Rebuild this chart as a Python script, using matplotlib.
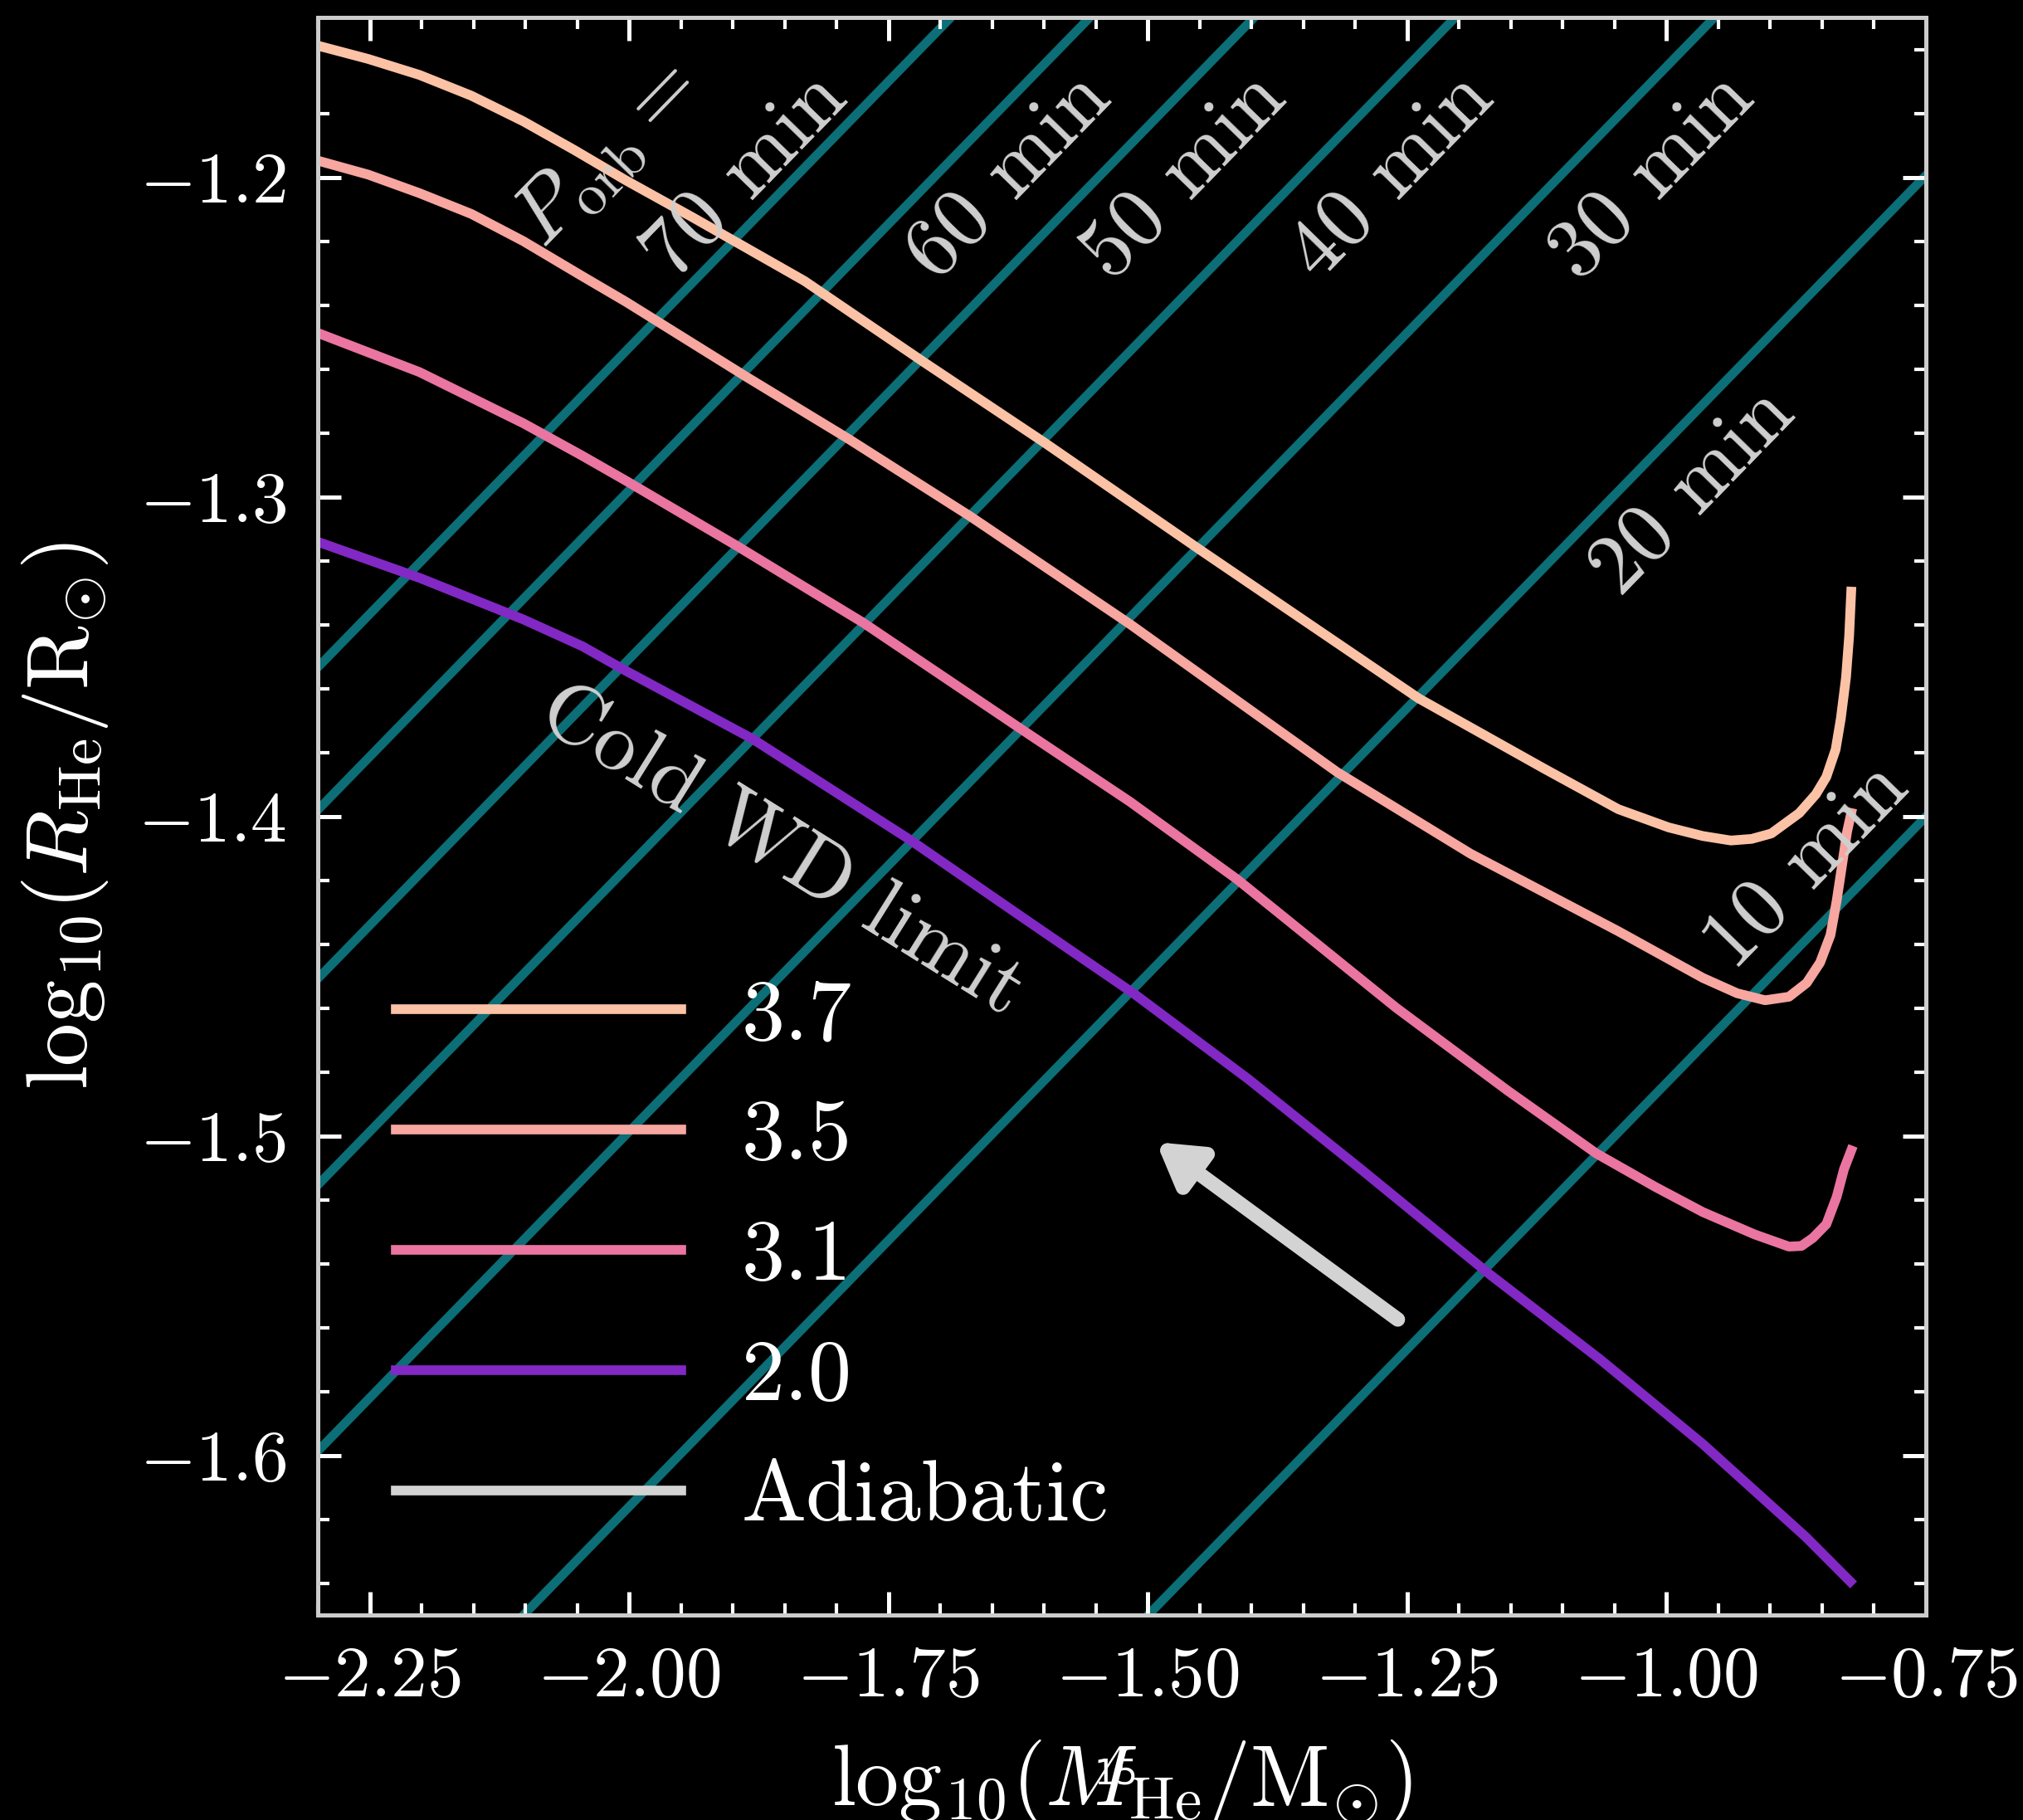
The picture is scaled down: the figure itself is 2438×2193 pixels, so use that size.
import numpy as np
import matplotlib
matplotlib.use("Agg")
import matplotlib.pyplot as plt
from matplotlib.ticker import MultipleLocator

plt.rcParams.update({
    "font.family": "serif",
    "font.serif": ["cmr10"],
    "mathtext.fontset": "cm",
    "axes.formatter.use_mathtext": True,
    "axes.unicode_minus": True,
})

# He-star tracks: log10(M/Msun) vs log10(R/Rsun), one per initial mass
m_37 = [-2.298, -2.2514, -2.202, -2.152, -2.102, -2.0527, -2.003, -1.938, -1.8308, -1.7167,
        -1.599, -1.4493, -1.239, -1.118, -1.0465, -0.998, -0.965, -0.938, -0.918, -0.899,
        -0.872, -0.856, -0.846, -0.837, -0.832, -0.827, -0.824, -0.822]
r_37 = [-1.159, -1.163, -1.168, -1.1745, -1.1825, -1.1915, -1.201, -1.2127, -1.2325, -1.2577,
        -1.2832, -1.3167, -1.3631, -1.3851, -1.3978, -1.4035, -1.4062, -1.4076, -1.4071, -1.4054,
        -1.399, -1.3931, -1.3877, -1.3791, -1.3694, -1.3565, -1.3436, -1.3297]

m_35 = [-2.298, -2.2514, -2.202, -2.152, -2.102, -2.045, -2.003, -1.8878, -1.788, -1.6704,
        -1.5171, -1.3175, -1.1891, -1.0465, -0.965, -0.932, -0.905, -0.882, -0.865, -0.852,
        -0.842, -0.836, -0.831, -0.826, -0.822]
r_35 = [-1.195, -1.1992, -1.205, -1.2115, -1.220, -1.2310, -1.2390, -1.2623, -1.282, -1.3063,
        -1.3399, -1.3862, -1.4117, -1.436, -1.4506, -1.4554, -1.4576, -1.4565, -1.4522, -1.4458,
        -1.4372, -1.4264, -1.4157, -1.4049, -1.399]

m_31 = [-2.298, -2.202, -2.102, -2.045, -2.003, -1.895, -1.774, -1.624, -1.517, -1.4137,
        -1.2604, -1.1535, -1.0679, -1.0109, -0.965, -0.915, -0.882, -0.870, -0.859, -0.846,
        -0.836, -0.829, -0.822]
r_31 = [-1.249, -1.261, -1.277, -1.2872, -1.2950, -1.3156, -1.3395, -1.3723, -1.3955, -1.4198,
        -1.4600, -1.4858, -1.5055, -1.5160, -1.5239, -1.5309, -1.5347, -1.5345, -1.532, -1.5277,
        -1.5191, -1.5105, -1.5046]

m_20 = [-2.301, -2.202, -2.102, -2.045, -2.003, -1.881, -1.731, -1.617, -1.5135, -1.403,
        -1.296, -1.170, -1.064, -0.965, -0.866, -0.823]
r_20 = [-1.314, -1.3254, -1.3384, -1.3468, -1.3545, -1.3758, -1.407, -1.4325, -1.4555, -1.4823,
        -1.5101, -1.5435, -1.5700, -1.5965, -1.6255, -1.6395]

track_masses = ["3.7", "3.5", "3.1", "2.0"]
track_colors = ["#fcc2a6", "#f7a6a0", "#ea75a0", "#8228c4"]

# orbital periods of the Roche-lobe filling lines (minutes)
periods = [10, 20, 30, 40, 50, 60, 70]
# where each period label sits (data coords)
period_label_x = [-0.864, -0.974, -1.013, -1.264, -1.464, -1.633, -1.887]
period_label_y = [-1.4157, -1.2987, -1.200, -1.200, -1.200, -1.200, -1.200]

# adiabatic direction arrow: tail -> head
arrow_tail = (-1.259, -1.5575)
arrow_head = (-1.492, -1.502)

# Paczynski Roche lobe: P = 2 pi sqrt(R^3 / (0.462^3 G M))
G = 6.674e-8
Msun = 1.989e33
Rsun = 6.957e10
P0_min = 2 * np.pi * np.sqrt(Rsun**3 / (G * Msun)) / 0.462**1.5 / 60.0

xlim = (-2.30, -0.75)
ylim = (-1.65, -1.15)

W, H = 2438, 2193
fig = plt.figure(figsize=(W / 300, H / 300), dpi=300, facecolor="black")
ax = fig.add_axes([383 / W, 1 - 1946 / H, (2321 - 383) / W, (1946 - 21) / H])
ax.set_facecolor("black")

teal = "#0c6e76"
lx = np.array(xlim)
for P in periods:
    ly = (2.0 / 3.0) * np.log10(P / P0_min) + lx / 3.0
    ax.plot(lx, ly, color=teal, lw=2.6, zorder=1)

tracks = [(m_37, r_37), (m_35, r_35), (m_31, r_31), (m_20, r_20)]
for (m, r), lab, c in zip(tracks, track_masses, track_colors):
    ax.plot(m, r, color=c, lw=2.8, label=lab, zorder=2, solid_joinstyle="round")
ax.plot([], [], color="#d3d3d3", lw=2.8, label="Adiabatic")

ax.annotate("", xy=arrow_head, xytext=arrow_tail,
            arrowprops=dict(arrowstyle="-|>,head_length=0.5,head_width=0.3",
                            mutation_scale=20, lw=4.2, color="#d3d3d3",
                            shrinkA=0, shrinkB=0), zorder=3)

txtc = "#d0d0d0"
slope_deg = np.degrees(np.arctan(1.0 / 3.0))
for P, tx, ty in zip(periods, period_label_x, period_label_y):
    ax.text(tx, ty, f"{P} min", color=txtc, fontsize=24.5, rotation=slope_deg,
            transform_rotates_text=True, rotation_mode="anchor",
            ha="center", va="center", zorder=4)
ax.text(-2.022, -1.193, r"$P_{\rm orb} =$", color=txtc, fontsize=24.5, rotation=slope_deg,
        transform_rotates_text=True, rotation_mode="anchor",
        ha="center", va="center", zorder=4)
ax.text(-1.853, -1.411, "Cold WD limit", color=txtc, fontsize=24.5, rotation=-32,
        rotation_mode="anchor", ha="center", va="center", zorder=4)

ax.set_xlim(*xlim)
ax.set_ylim(*ylim)
ax.xaxis.set_major_locator(MultipleLocator(0.25))
ax.xaxis.set_minor_locator(MultipleLocator(0.05))
ax.yaxis.set_major_locator(MultipleLocator(0.1))
ax.yaxis.set_minor_locator(MultipleLocator(0.02))
ax.tick_params(which="both", direction="in", top=True, right=True, colors="white",
               labelcolor="white", labelsize=21)
ax.tick_params(which="major", length=6.7, width=1.2, pad=9)
ax.tick_params(which="minor", length=3.4, width=1.0)
for s in ax.spines.values():
    s.set_color("#cccccc")
    s.set_linewidth(1.2)

ax.set_xlabel(r"$\mathrm{log}_{10}(M_{\rm He}/{\rm M}_{\odot})$", color="white",
              fontsize=25, labelpad=8)
ax.set_ylabel(r"$\mathrm{log}_{10}(R_{\rm He}/{\rm R}_{\odot})$", color="white",
              fontsize=25, labelpad=8)

leg = ax.legend(loc="lower left", frameon=False, fontsize=25, handlelength=3.3,
                handletextpad=0.7, labelspacing=0.5, labelcolor="white")
leg.set_zorder(5)

fig.text(1345 / W, 1 - 2137 / H, "15", color="white", fontsize=10,
         family="DejaVu Sans", ha="center", va="center")

fig.savefig("out.png", dpi=300, facecolor="black")
